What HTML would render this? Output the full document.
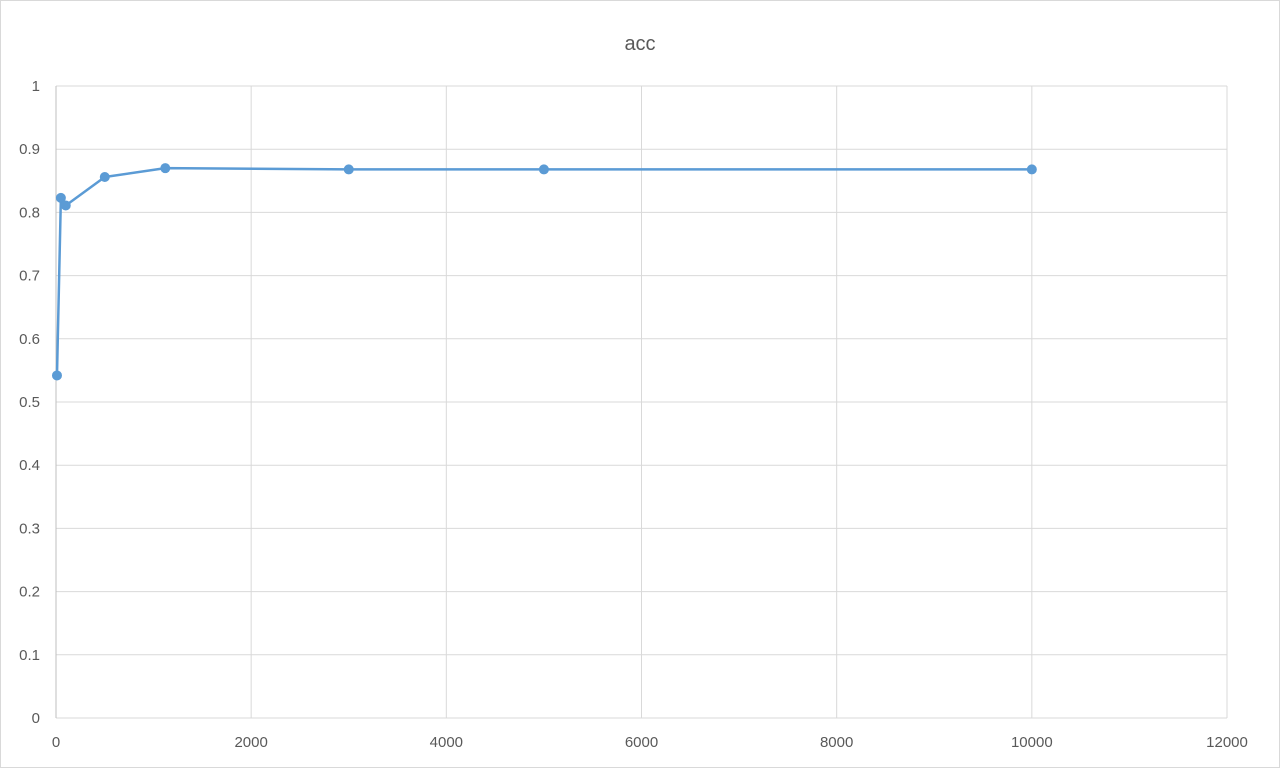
<!DOCTYPE html>
<html><head><meta charset="utf-8"><style>
html,body{margin:0;padding:0;background:#fff;}
svg{display:block;font-family:"Liberation Sans",sans-serif;}
</style></head><body>
<svg id="chart" width="1280" height="768">
<rect x="0.5" y="0.5" width="1279" height="767" fill="#fff" stroke="#d9d9d9"/>
<text x="640" y="50" text-anchor="middle" font-size="20" fill="#595959">acc</text>
<g id="grid"></g><g id="axes"></g><g id="series"></g>
</svg>
<script>
const xValues=[10,50,100,500,1120,3000,5000,10000];
const yValues=[0.542,0.823,0.811,0.856,0.870,0.868,0.868,0.868];
const xTicks=[0,2000,4000,6000,8000,10000,12000];
const yTicks=[0,0.1,0.2,0.3,0.4,0.5,0.6,0.7,0.8,0.9,1];
const X0=56,X1=1227,Y0=718,Y1=86;
const sx=v=>X0+(v-0)/(12000)*(X1-X0);
const sy=v=>Y0-(v-0)/1*(Y0-Y1);
const NS="http://www.w3.org/2000/svg";
const grid=document.getElementById('grid'),axes=document.getElementById('axes'),ser=document.getElementById('series');
function mk(tag,attrs,parent){const e=document.createElementNS(NS,tag);for(const k in attrs)e.setAttribute(k,attrs[k]);parent.appendChild(e);return e;}
yTicks.forEach(t=>{
 const l=mk('line',{x1:X0,x2:X1,y1:sy(t),y2:sy(t),stroke:'#d9d9d9','stroke-width':1},grid);
 
 
 const tx=mk('text',{x:40,y:sy(t)+5,'text-anchor':'end','font-size':15,fill:'#595959'},axes);
 tx.textContent=String(t);
 
 
});
xTicks.forEach(t=>{
 const l=mk('line',{x1:sx(t),x2:sx(t),y1:Y1,y2:Y0,stroke:t===0?'#bfbfbf':'#d9d9d9','stroke-width':1},grid);
 
 
 const tx=mk('text',{x:sx(t),y:Y0+29,'text-anchor':'middle','font-size':15,fill:'#595959'},axes);
 tx.textContent=String(t);
 
 
});
const pts=xValues.map((v,i)=>sx(v)+','+sy(yValues[i])).join(' ');
const pl=mk('polyline',{points:pts,fill:'none',stroke:'#5b9bd5','stroke-width':2.5,'stroke-linejoin':'round'},ser);


xValues.forEach((v,i)=>{
 const c=mk('circle',{cx:sx(v),cy:sy(yValues[i]),r:5,fill:'#5b9bd5'},ser);
 
 
});
</script>
</body></html>
